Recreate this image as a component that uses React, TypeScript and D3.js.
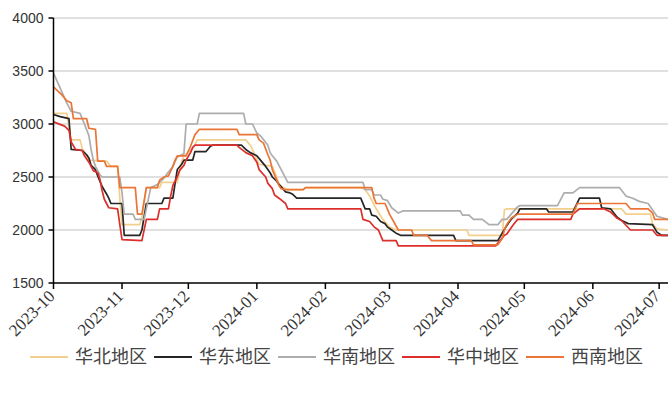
import React from "react";
import * as d3 from "d3";

// Regional prices, polyline vertices as [MM-DD, value]; Oct–Dec are 2023, the rest 2024.
const huabei: [string, number][] = [
  ["10-01", 3100], ["10-07", 3100], ["10-09", 2850], ["10-13", 2850], ["10-14", 2770], ["10-17", 2660],
  ["10-25", 2650], ["10-27", 2600], ["10-30", 2600], ["10-31", 2300], ["11-01", 2050], ["11-09", 2050],
  ["11-10", 2120], ["11-12", 2400], ["11-18", 2400], ["11-19", 2450], ["11-26", 2450], ["11-28", 2650],
  ["11-29", 2700], ["12-02", 2750], ["12-04", 2800], ["12-05", 2850], ["12-27", 2850], ["12-29", 2800],
  ["12-30", 2760], ["01-02", 2620], ["01-08", 2600], ["01-10", 2500], ["01-11", 2430], ["01-13", 2400],
  ["01-15", 2380], ["01-22", 2380], ["01-23", 2400], ["02-17", 2400], ["02-19", 2380], ["02-21", 2320],
  ["02-24", 2200], ["02-27", 2100], ["03-01", 2030], ["03-04", 2000], ["04-05", 2000], ["04-06", 1950],
  ["04-21", 1950], ["04-22", 2190], ["04-23", 2200], ["06-14", 2200], ["06-16", 2150], ["06-27", 2150],
  ["06-28", 2060], ["06-30", 2010], ["07-05", 2000],
];

const huadong: [string, number][] = [
  ["10-01", 3090], ["10-04", 3070], ["10-08", 3050], ["10-09", 2760], ["10-14", 2750], ["10-16", 2710],
  ["10-17", 2680], ["10-18", 2610], ["10-20", 2570], ["10-21", 2510], ["10-22", 2460], ["10-23", 2410],
  ["10-25", 2340], ["10-26", 2300], ["10-27", 2250], ["11-01", 2250], ["11-02", 1950], ["11-09", 1950],
  ["11-10", 2000], ["11-12", 2250], ["11-19", 2250], ["11-20", 2300], ["11-24", 2300], ["11-25", 2440],
  ["11-26", 2570], ["11-28", 2620], ["11-29", 2660], ["12-03", 2660], ["12-04", 2740], ["12-09", 2740],
  ["12-11", 2790], ["12-12", 2800], ["12-25", 2800], ["12-27", 2760], ["12-29", 2730], ["01-01", 2700],
  ["01-03", 2650], ["01-05", 2600], ["01-07", 2540], ["01-08", 2500], ["01-10", 2460], ["01-11", 2430],
  ["01-14", 2360], ["01-16", 2350], ["01-17", 2340], ["01-19", 2300], ["02-17", 2300], ["02-19", 2200],
  ["02-21", 2200], ["02-22", 2140], ["02-24", 2130], ["02-26", 2080], ["02-28", 2060], ["02-29", 2030],
  ["03-02", 2000], ["03-04", 1970], ["03-06", 1950], ["03-30", 1950], ["03-31", 1900], ["04-19", 1900],
  ["04-21", 1970], ["04-23", 2040], ["04-25", 2100], ["04-28", 2160], ["04-29", 2200], ["05-11", 2200],
  ["05-12", 2170], ["05-23", 2170], ["05-26", 2300], ["06-04", 2300], ["06-05", 2210], ["06-09", 2200],
  ["06-12", 2120], ["06-14", 2090], ["06-17", 2060], ["06-28", 2050], ["06-30", 1980], ["07-02", 1950],
  ["07-05", 1950],
];

const huanan: [string, number][] = [
  ["10-01", 3480], ["10-07", 3200], ["10-09", 3120], ["10-13", 3100], ["10-15", 3000], ["10-17", 2890],
  ["10-18", 2760], ["10-19", 2660], ["10-20", 2600], ["10-22", 2520], ["10-23", 2500], ["10-31", 2500],
  ["11-01", 2350], ["11-02", 2150], ["11-06", 2150], ["11-07", 2100], ["11-11", 2100], ["11-14", 2400],
  ["11-17", 2430], ["11-20", 2490], ["11-21", 2520], ["11-24", 2600], ["11-26", 2690], ["11-29", 2720],
  ["11-30", 3000], ["12-05", 3000], ["12-06", 3100], ["12-26", 3100], ["12-27", 3000], ["12-30", 3000],
  ["01-01", 2915], ["01-03", 2880], ["01-06", 2800], ["01-07", 2730], ["01-08", 2700], ["01-10", 2650],
  ["01-12", 2570], ["01-15", 2450], ["02-18", 2450], ["02-19", 2380], ["02-22", 2380], ["02-23", 2330],
  ["02-26", 2330], ["02-27", 2290], ["02-29", 2280], ["03-02", 2210], ["03-05", 2160], ["03-07", 2180],
  ["04-02", 2180], ["04-03", 2140], ["04-06", 2140], ["04-08", 2100], ["04-12", 2100], ["04-15", 2050],
  ["04-19", 2050], ["04-21", 2100], ["04-23", 2100], ["04-28", 2220], ["04-29", 2230], ["05-16", 2230],
  ["05-19", 2350], ["05-23", 2350], ["05-26", 2400], ["06-13", 2400], ["06-16", 2320], ["06-19", 2300],
  ["06-22", 2270], ["06-26", 2250], ["06-30", 2130], ["07-05", 2100],
];

const huazhong: [string, number][] = [
  ["10-01", 3020], ["10-06", 2980], ["10-08", 2940], ["10-09", 2830], ["10-11", 2760], ["10-14", 2750],
  ["10-15", 2700], ["10-17", 2640], ["10-19", 2560], ["10-21", 2540], ["10-22", 2480], ["10-23", 2370],
  ["10-24", 2290], ["10-26", 2210], ["10-30", 2200], ["10-31", 2050], ["11-01", 1910], ["11-10", 1900],
  ["11-12", 2100], ["11-17", 2100], ["11-18", 2200], ["11-22", 2200], ["11-23", 2320], ["11-24", 2420],
  ["11-26", 2500], ["11-27", 2560], ["11-29", 2610], ["11-30", 2660], ["12-02", 2730], ["12-03", 2780],
  ["12-04", 2800], ["12-23", 2800], ["12-24", 2780], ["12-27", 2730], ["12-30", 2700], ["01-01", 2640],
  ["01-02", 2570], ["01-05", 2500], ["01-06", 2440], ["01-08", 2390], ["01-09", 2330], ["01-11", 2300],
  ["01-14", 2250], ["01-15", 2200], ["02-17", 2200], ["02-18", 2100], ["02-21", 2080], ["02-23", 2030],
  ["02-25", 2000], ["02-27", 1900], ["03-04", 1900], ["03-05", 1850], ["04-18", 1850], ["04-20", 1900],
  ["04-22", 1950], ["04-23", 1960], ["04-26", 2050], ["04-28", 2100], ["05-22", 2100], ["05-23", 2150],
  ["05-26", 2200], ["06-06", 2200], ["06-09", 2170], ["06-12", 2110], ["06-14", 2090], ["06-18", 2000],
  ["06-28", 2000], ["06-30", 1950], ["07-05", 1950],
];

const xinan: [string, number][] = [
  ["10-01", 3350], ["10-05", 3270], ["10-07", 3220], ["10-09", 3200], ["10-10", 3050], ["10-16", 3050],
  ["10-17", 2960], ["10-20", 2950], ["10-21", 2650], ["10-24", 2650], ["10-25", 2600], ["10-30", 2600],
  ["10-31", 2400], ["11-07", 2400], ["11-08", 2150], ["11-10", 2150], ["11-12", 2400], ["11-17", 2400],
  ["11-18", 2470], ["11-20", 2500], ["11-22", 2510], ["11-24", 2600], ["11-25", 2660], ["11-26", 2700],
  ["11-30", 2700], ["12-02", 2790], ["12-04", 2900], ["12-06", 2950], ["12-23", 2950], ["12-24", 2900],
  ["01-01", 2900], ["01-02", 2850], ["01-04", 2820], ["01-06", 2710], ["01-07", 2660], ["01-08", 2570],
  ["01-10", 2470], ["01-11", 2420], ["01-12", 2390], ["01-14", 2380], ["01-22", 2380], ["01-23", 2400],
  ["02-22", 2400], ["02-23", 2300], ["02-24", 2250], ["02-28", 2250], ["03-01", 2150], ["03-05", 2000],
  ["03-11", 2000], ["03-12", 1950], ["03-18", 1950], ["03-20", 1900], ["04-07", 1900], ["04-08", 1860],
  ["04-19", 1860], ["04-21", 1920], ["04-22", 2000], ["04-23", 2050], ["04-25", 2110], ["04-28", 2150],
  ["05-23", 2150], ["05-25", 2250], ["06-16", 2250], ["06-18", 2200], ["06-26", 2200], ["06-28", 2160],
  ["06-29", 2100], ["07-05", 2100],
];

const seriesNames = ["华北地区", "华东地区", "华南地区", "华中地区", "西南地区"];
const seriesData = [huabei, huadong, huanan, huazhong, xinan];
const seriesColors = ["#F2CF8C", "#262626", "#ADADAD", "#DC2F2C", "#EB7437"];

const yTicks = [1500, 2000, 2500, 3000, 3500, 4000];
const monthTicks = [
  "2023-10", "2023-11", "2023-12", "2024-01", "2024-02",
  "2024-03", "2024-04", "2024-05", "2024-06", "2024-07",
];

const W = 668;
const H = 394;
const left = 53.5;
const right = 668;
const top = 18;
const bottom = 283;

function parseDay(s: string): Date {
  const m = +s.slice(0, 2);
  const d = +s.slice(3, 5);
  return new Date(m >= 10 ? 2023 : 2024, m - 1, d);
}

function parseMonth(s: string): Date {
  const [y, m] = s.split("-").map(Number);
  return new Date(y, m - 1, 1);
}

export default function App() {
  const x = d3
    .scaleTime()
    .domain([new Date(2023, 9, 1), new Date(2024, 6, 5)])
    .range([left, right]);
  const y = d3.scaleLinear().domain([1500, 4000]).range([bottom, top]);

  const line = d3
    .line<[string, number]>()
    .x((d) => x(parseDay(d[0])))
    .y((d) => y(d[1]))
    .curve(d3.curveLinear);

  const legendY = 357;
  const legendStep = 124;

  return (
    <svg
      width={W}
      height={H}
      viewBox={`0 0 ${W} ${H}`}
      style={{ position: "absolute", left: 0, top: 0, background: "#fff" }}
    >
      <rect x={0} y={0} width={W} height={H} fill="#fff" />
      {/* horizontal grid */}
      {yTicks
        .filter((t) => t > 1500)
        .map((t) => (
          <line
            key={"g" + t}
            x1={left}
            x2={right}
            y1={y(t)}
            y2={y(t)}
            stroke="#D6D6D6"
            strokeWidth={1.5}
          />
        ))}

      {/* series */}
      <g fill="none" strokeWidth={1.7} strokeLinejoin="round">
        {seriesData.map((data, i) => (
          <path key={seriesNames[i]} d={line(data) || ""} stroke={seriesColors[i]} />
        ))}
      </g>

      {/* y axis */}
      <line x1={left} x2={left} y1={top} y2={bottom} stroke="#000" strokeWidth={1.5} />
      {yTicks.map((t) => (
        <g key={"y" + t}>
          <line x1={left - 5} x2={left} y1={y(t)} y2={y(t)} stroke="#000" strokeWidth={1.5} />
          <text
            x={left - 10}
            y={y(t)}
            dy="0.35em"
            textAnchor="end"
            fontFamily="'Liberation Sans', Arial, sans-serif"
            fontSize={14}
            fill="#333"
          >
            {t}
          </text>
        </g>
      ))}

      {/* x axis */}
      <line x1={left} x2={right} y1={bottom} y2={bottom} stroke="#000" strokeWidth={1.5} />
      {monthTicks.map((m) => {
        const px = x(parseMonth(m));
        return (
          <g key={"x" + m}>
            <line x1={px} x2={px} y1={bottom} y2={bottom + 6} stroke="#000" strokeWidth={1.5} />
            <text
              transform={`translate(${px - 2},${bottom + 10}) rotate(-45)`}
              dy="0.35em"
              textAnchor="end"
              fontFamily="'Liberation Serif', 'Times New Roman', serif"
              fontSize={17}
              fill="#333"
            >
              {m}
            </text>
          </g>
        );
      })}

      {/* legend */}
      {seriesNames.map((name, i) => {
        const x0 = 30 + i * legendStep;
        return (
          <g key={"l" + name}>
            <line
              x1={x0}
              x2={x0 + 38}
              y1={legendY}
              y2={legendY}
              stroke={seriesColors[i]}
              strokeWidth={2}
            />
            <text
              x={x0 + 45}
              y={legendY}
              dy="0.36em"
              fontFamily="'Noto Sans CJK SC', sans-serif"
              fontSize={18}
              fill="#444"
            >
              {name}
            </text>
          </g>
        );
      })}
    </svg>
  );
}
